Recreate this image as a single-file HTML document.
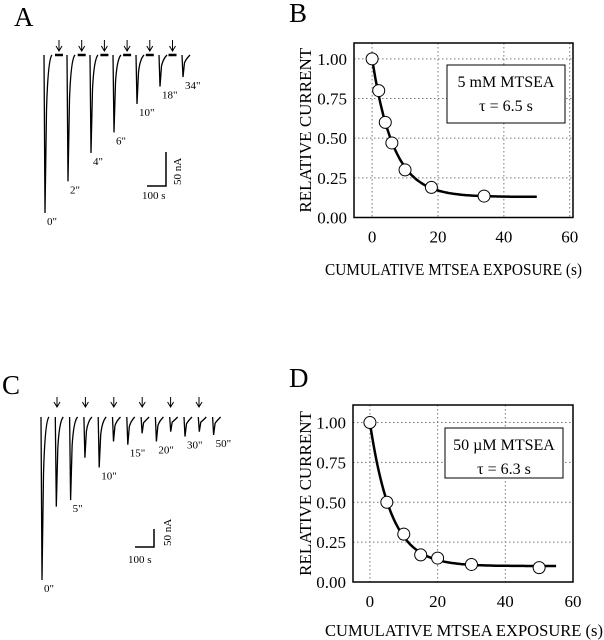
<!DOCTYPE html>
<html><head><meta charset="utf-8"><style>
body{margin:0;background:#fff}
svg{display:block;font-family:"Liberation Serif",serif}
</style></head><body>
<svg id="fig" width="604" height="640" xmlns="http://www.w3.org/2000/svg">
<text x="14" y="26" font-size="27">A</text>
<text x="289" y="22" font-size="27">B</text>
<text x="2" y="394" font-size="27">C</text>
<text x="289" y="387" font-size="27">D</text>
<g id="traceA"></g>
<g id="traceC"></g>
<g id="plotB"></g>
<g id="plotD"></g>
</svg>
<script>
const NS="http://www.w3.org/2000/svg";
// Panel A traces
const aLabels=['0"','2"','4"','6"','10"','18"','34"'];
const aAmps=[1.0,0.8,0.62,0.49,0.31,0.2,0.14];
// Panel C traces (labelled + intermediate)
const cLabels=['0"','','5"','','10"','','15"','','20"','','30"','','50"'];
const cAmps=[1.0,0.55,0.51,0.25,0.31,0.15,0.17,0.1,0.15,0.09,0.12,0.09,0.11];
// Panel B data
const bX=[0,2,4,6,10,18,34];
const bY=[1.0,0.8,0.6,0.47,0.3,0.19,0.135];
const bTau=6.5, bInf=0.13, bFitMax=50;
// Panel D data
const dX=[0,5,10,15,20,30,50];
const dY=[1.0,0.5,0.3,0.17,0.15,0.11,0.09];
const dTau=6.3, dInf=0.10, dFitMax=55;
const xTicks=[0,20,40,60];
const yTicks=[0,0.25,0.5,0.75,1.0];
const yTickLabels=["0.00","0.25","0.50","0.75","1.00"];

function el(p,tag,attrs,txt){const e=document.createElementNS(NS,tag);for(const k in attrs)e.setAttribute(k,attrs[k]);if(txt!==undefined)e.textContent=txt;p.appendChild(e);return e;}

function traces(g,labels,amps,x0,dx,base,depth,labelDy){
  amps.forEach((a,i)=>{
    const x=x0+i*dx, py=base+a*depth;
    const p=el(g,'path',{d:`M${x-1},${base} L${x},${py} L${x+1.5},${base+a*depth*0.35} Q${x+3},${base+4} ${x+7},${base}`,fill:'none',stroke:'#000','stroke-width':1.3});
    
    
    if(labels[i]){const t=el(g,'text',{x:x+2,y:py+labelDy,'font-size':11},labels[i]);
      
      }
  });
}
// Panel A
const gA=document.getElementById('traceA');
traces(gA,aLabels,aAmps,45,23,55,158,12);
for(let i=0;i<6;i++){const x=59+i*22.7;
  const ar=el(gA,'path',{d:`M${x},40 L${x},51 M${x-3},46 L${x},51 L${x+3},46`,fill:'none',stroke:'#000','stroke-width':1});
  
  
  const b=el(gA,'line',{x1:x-4,y1:55,x2:x+4,y2:55,stroke:'#000','stroke-width':2.5});
  
  
}
el(gA,'path',{d:'M166,152 L166,186 L147,186',fill:'none',stroke:'#000','stroke-width':1.5,});
el(gA,'text',{x:0,y:0,'font-size':11,transform:'translate(181,185) rotate(-90)'},'50 nA');
el(gA,'text',{x:142,y:199,'font-size':11},'100 s');
// Panel C
const gC=document.getElementById('traceC');
traces(gC,cLabels,cAmps,42,14.3,417,163,12);
for(let i=0;i<6;i++){const x=57+i*28.4;
  const ar=el(gC,'path',{d:`M${x},397 L${x},407 M${x-3},402 L${x},407 L${x+3},402`,fill:'none',stroke:'#000','stroke-width':1});
  
  
}
el(gC,'path',{d:'M154,529 L154,547 L135,547',fill:'none',stroke:'#000','stroke-width':1.5,});
el(gC,'text',{x:0,y:0,'font-size':11,transform:'translate(171,546) rotate(-90)'},'50 nA');
el(gC,'text',{x:128,y:563,'font-size':11},'100 s');

function plot(g,L,R,T,B,xmin,xmax,ymin,ymax,xs,ys,tau,inf,fitMax,leg1,leg2,lb,titleY,titleLen){
  const sx=v=>L+(v-xmin)/(xmax-xmin)*(R-L), sy=v=>B-(v-ymin)/(ymax-ymin)*(B-T);
  xTicks.forEach(t=>{
    if(t>xmin&&t<xmax){const gl=el(g,'line',{x1:sx(t),y1:T,x2:sx(t),y2:B,stroke:'#777','stroke-dasharray':'1.5,2.5','stroke-width':1});
      }
    const tl=el(g,'text',{x:sx(t),y:B+25,'font-size':17,'text-anchor':'middle'},String(t));
    
    
  });
  yTicks.forEach((t,i)=>{
    if(t>ymin){const gl=el(g,'line',{x1:L,y1:sy(t),x2:R,y2:sy(t),stroke:'#777','stroke-dasharray':'1.5,2.5','stroke-width':1});
      }
    const tl=el(g,'text',{x:L-7,y:sy(t)+6,'font-size':17,'text-anchor':'end'},yTickLabels[i]);
    
    
  });
  el(g,'rect',{x:L,y:T,width:R-L,height:B-T,fill:'none',stroke:'#000','stroke-width':1.5,});
  let d='';for(let x=0;x<=fitMax;x+=0.5){d+=(x?'L':'M')+sx(x).toFixed(1)+','+sy(inf+(1-inf)*Math.exp(-x/tau)).toFixed(1);}
  el(g,'path',{d,fill:'none',stroke:'#000','stroke-width':2.5,});
  xs.forEach((x,i)=>{const c=el(g,'circle',{cx:sx(x),cy:sy(ys[i]),r:6,fill:'#fff',stroke:'#000','stroke-width':1});
    });
  el(g,'rect',{x:lb[0],y:lb[1],width:lb[2],height:lb[3],fill:'#fff',stroke:'#000','stroke-width':1,});
  el(g,'text',{x:lb[0]+lb[2]/2,y:lb[1]+22,'font-size':16,'text-anchor':'middle',},leg1);
  el(g,'text',{x:lb[0]+lb[2]/2,y:lb[1]+46,'font-size':16,'text-anchor':'middle',},leg2);
  el(g,'text',{x:0,y:0,'font-size':17,'text-anchor':'middle',transform:`translate(311,${(T+B)/2}) rotate(-90)`,},'RELATIVE CURRENT');
  el(g,'text',{x:325,y:titleY,'font-size':17,textLength:titleLen,lengthAdjust:'spacingAndGlyphs',},'CUMULATIVE MTSEA EXPOSURE (s)');
}
plot(document.getElementById('plotB'),354,573,43,217.5,-5.5,61,0,1.1,bX,bY,bTau,bInf,bFitMax,'5 mM MTSEA','τ = 6.5 s',[447,65,118,58],275,257);
plot(document.getElementById('plotD'),353,573,405,582,-5,60,0,1.11,dX,dY,dTau,dInf,dFitMax,'50 µM MTSEA','τ = 6.3 s',[445,428,118,50],636,278);
</script>
</body></html>
